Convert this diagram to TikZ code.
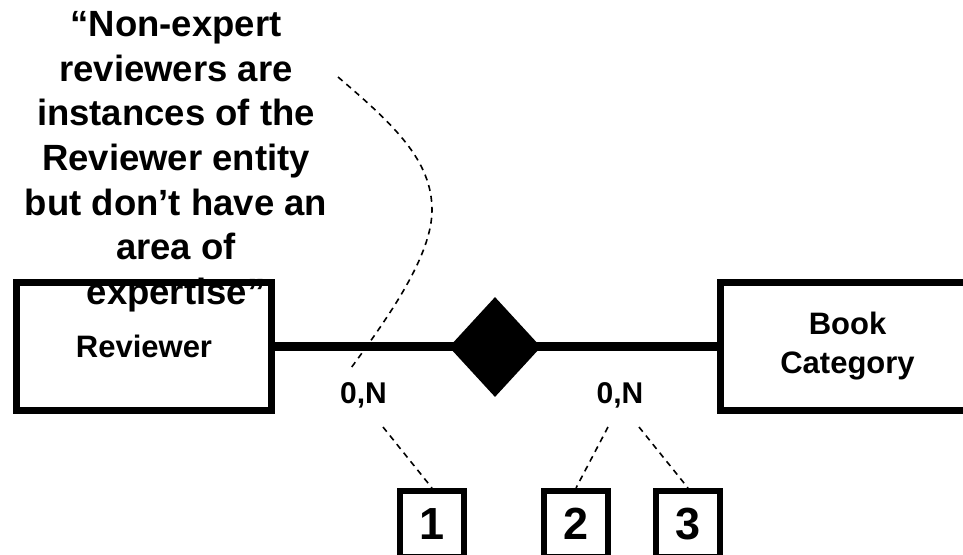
\documentclass[tikz,border=0pt]{standalone}
\usepackage{fontspec}
\setmainfont{Liberation Sans}
\usetikzlibrary{shapes.geometric}
\tikzset{
 entity/.style = {rectangle, draw, line width=7pt, minimum width=255pt,
           minimum height=128pt, inner sep=0pt, align=center,
           font=\fontsize{31}{39}\selectfont\bfseries},
 relship/.style = {diamond, fill=black, minimum width=92pt,
           minimum height=100pt, inner sep=0pt},
 card/.style = {anchor=base, inner sep=0pt,
           font=\fontsize{30}{36}\selectfont\bfseries},
 numbox/.style = {rectangle, draw, line width=6pt, minimum width=64pt,
           minimum height=66pt, inner sep=0pt,
           font=\fontsize{45}{54}\selectfont\bfseries},
 hint/.style = {dash pattern=on 6pt off 5pt, line width=1.6pt}
}

\begin{document}
\begin{tikzpicture}[x=1pt, y=-1pt]
  \useasboundingbox (0,0) rectangle (963,554);
  \clip (0,0) rectangle (963,554);

  % Note
  \node[anchor=north, inner sep=0pt, align=center,
    font=\fontsize{36.5}{44.7}\selectfont\bfseries] (note) at (176,11)
  {“Non-expert\\reviewers are\\instances of the\\Reviewer entity\\
    but don’t have an\\area of\\expertise”};
  \coordinate (n0) at (338,77);
  \coordinate (n1) at (432,210);
  \coordinate (n2) at (351,368);
  \draw[hint] (n0) .. controls (393,124) and (432,160) .. (n1)
    .. controls (432,255) and (390,315) .. (n2);

  % Entities
  \node[entity] (rev) at (144,346.5) {Reviewer};
  \node[entity] (cat) at (847.5,346.5) {Book\\Category};

  % Relationship
  \draw[line width=8.5pt] (rev.east) -- (cat.west);
  \node[relship] (rel) at (495,347) {};

  % Cardinalities
  \node[card] (c1) at (363.5,403) {0,N};
  \node[card] (c2) at (620,403) {0,N};

  % Boxes
  \node[numbox] (b1) at (432,524) {1};
  \node[numbox] (b2) at (576,524) {2};
  \node[numbox] (b3) at (688,524) {3};

  \coordinate (s1) at (383,427);
  \coordinate (s2) at (608,427);
  \coordinate (s3) at (639,427);
  \draw[hint] (s1) -- (b1.north);
  \draw[hint] (s2) -- (b2.north);
  \draw[hint] (s3) -- (b3.north);
\end{tikzpicture}
\end{document}
